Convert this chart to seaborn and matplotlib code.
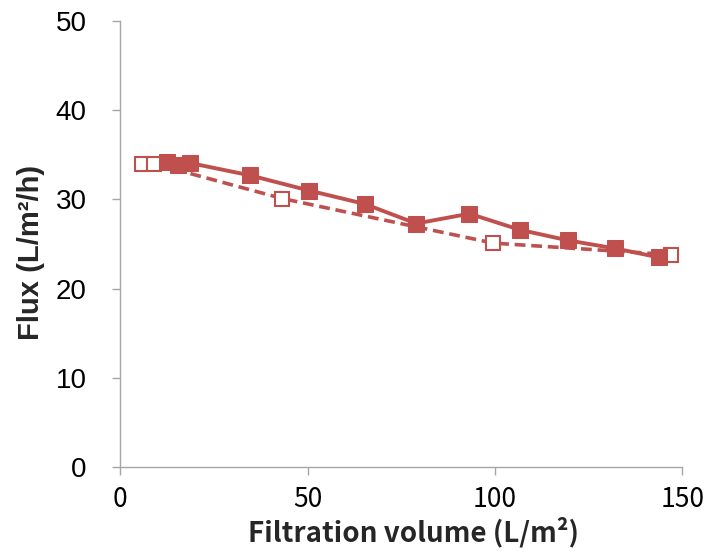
import matplotlib
matplotlib.use("Agg")
import matplotlib.pyplot as plt
import seaborn as sns
import pandas as pd

# Data
solid_x = [12.5, 15.3, 18.5, 34.7, 50.4, 65.2, 79.0, 93.2, 106.6, 119.6, 132.1, 143.8]
solid_y = [34.2, 33.9, 34.1, 32.7, 31.0, 29.5, 27.3, 28.4, 26.6, 25.4, 24.5, 23.5]
open_x = [5.8, 9.1, 43.3, 99.6, 147.0]
open_y = [34.0, 34.0, 30.1, 25.1, 23.8]
x_ticks = [0, 50, 100, 150]
y_ticks = [0, 10, 20, 30, 40, 50]

sns.set_theme(style="white")
plt.rcParams['font.family'] = ['Liberation Sans', 'DejaVu Sans']

color = "#C0504D"
fig = plt.figure(figsize=(7.07, 5.59), dpi=100)
ax = fig.add_axes([0.170, 0.165, 0.795, 0.797])

df_s = pd.DataFrame({"x": solid_x, "y": solid_y})
df_o = pd.DataFrame({"x": open_x, "y": open_y})

sns.lineplot(data=df_o, x="x", y="y", ax=ax, color=color, lw=2.6,
             linestyle=(0, (3, 1.6)), marker="s", markersize=10,
             markerfacecolor="white", markeredgecolor=color, markeredgewidth=1.5,
             sort=False)
sns.lineplot(data=df_s, x="x", y="y", ax=ax, color=color, lw=2.8,
             marker="s", markersize=11, markerfacecolor=color,
             markeredgecolor=color, sort=False)

ax.set_xlim(0, 150)
ax.set_ylim(0, 50)
ax.set_xticks(x_ticks)
ax.set_yticks(y_ticks)
ax.set_xticklabels([str(t) for t in x_ticks],
                   family=['Noto Sans CJK JP', 'DejaVu Sans'], fontsize=19)
ax.set_yticklabels([str(t) for t in y_ticks],
                   family=['Liberation Sans', 'DejaVu Sans'], fontsize=20)

for s in ["top", "right"]:
    ax.spines[s].set_visible(False)
for s in ["left", "bottom"]:
    ax.spines[s].set_color("#A6A6A6")
    ax.spines[s].set_linewidth(1.0)
ax.tick_params(axis="both", which="major", length=6, width=1.0,
               direction="out", bottom=True, left=True, labelcolor="black")
ax.tick_params(axis="both", color="#A6A6A6")
ax.tick_params(axis="y", pad=18)
ax.tick_params(axis="x", pad=8)

ax.set_xlabel("Filtration volume (L/m²)", fontsize=20, fontweight="bold",
              family=['Noto Sans CJK JP', 'DejaVu Sans'])
ax.set_ylabel("Flux (L/m²/h)", fontsize=21, fontweight="bold",
              family=['Liberation Sans', 'DejaVu Sans'])
ax.xaxis.set_label_coords(0.521, -0.112)
ax.yaxis.set_label_coords(-0.133, 0.482)
ax.grid(False)

fig.savefig("out.png", dpi=100)
